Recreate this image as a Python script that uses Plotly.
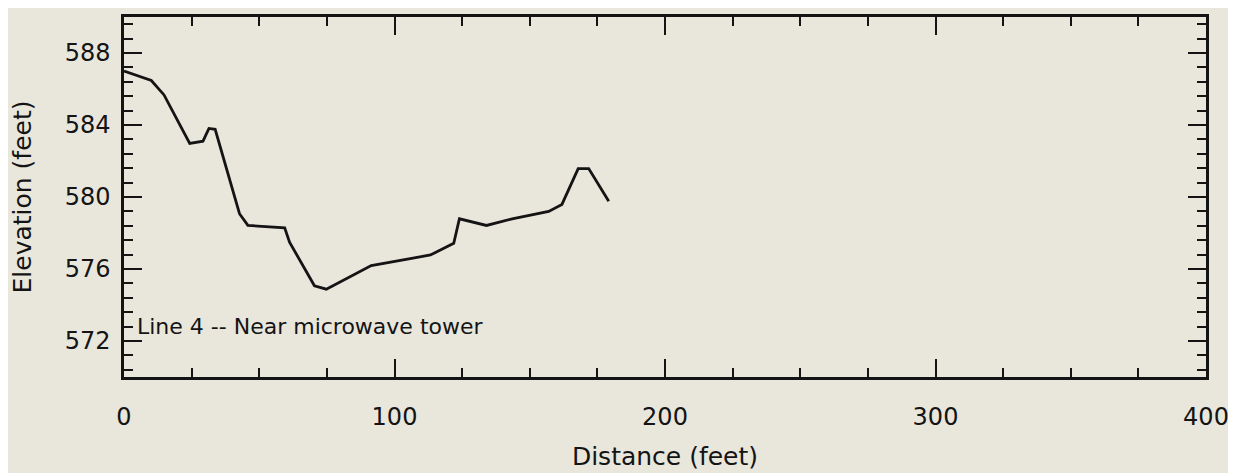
import plotly.graph_objects as go

# Survey profile: Line 4 -- Near microwave tower
distance_ft = [0, 10.1, 14.8, 24.3, 29.2, 31.4, 33.7, 42.7, 45.8, 59.4, 61.2,
               70.4, 74.8, 91.4, 105.3, 113.3, 121.9, 124.0, 134.0, 143.5,
               157.0, 161.9, 167.9, 171.8, 179.2]
elevation_ft = [587.0, 586.47, 585.67, 582.98, 583.1, 583.81, 583.76, 579.07,
                578.42, 578.29, 577.49, 575.07, 574.88, 576.19, 576.56, 576.78,
                577.43, 578.79, 578.42, 578.79, 579.2, 579.59, 581.58, 581.58,
                579.76]

x_ticks = [0, 100, 200, 300, 400]
y_ticks = [572, 576, 580, 584, 588]
label_text = "Line 4 -- Near microwave tower"

bg = "#e9e6dc"
ink = "#141414"
font_family = "DejaVu Sans"

fig = go.Figure()
fig.add_trace(go.Scatter(x=distance_ft, y=elevation_ft, mode="lines",
                         line=dict(color=ink, width=2.8), hoverinfo="skip"))

fig.add_annotation(x=4, y=572.8, xref="x", yref="y", text=label_text,
                   showarrow=False, xanchor="left", yanchor="middle",
                   font=dict(family=font_family, size=22, color=ink))

axis_common = dict(showline=True, linecolor=ink, linewidth=2.5, mirror="ticks",
                   ticks="inside", tickcolor=ink, tickwidth=2, ticklen=18,
                   showgrid=False, zeroline=False, automargin=False)

fig.update_xaxes(range=[0, 400], tickvals=x_ticks,
                 tickfont=dict(family=font_family, size=24, color=ink),
                 ticklabelstandoff=16,
                 minor=dict(dtick=25, tick0=0, ticks="inside", ticklen=9,
                            tickwidth=2, tickcolor=ink, showgrid=False),
                 title=dict(text="Distance (feet)", standoff=18,
                            font=dict(family=font_family, size=25, color=ink)),
                 **axis_common)
fig.update_yaxes(range=[570, 590], tickvals=y_ticks,
                 tickfont=dict(family=font_family, size=24, color=ink),
                 ticklabelstandoff=6,
                 minor=dict(dtick=0.8, tick0=572, ticks="inside", ticklen=9,
                            tickwidth=2, tickcolor=ink, showgrid=False),
                 title=dict(text="Elevation (feet)", standoff=28,
                            font=dict(family=font_family, size=25, color=ink)),
                 **axis_common)

fig.update_layout(width=1236, height=473,
                  margin=dict(l=116, r=38, t=9, b=104),
                  paper_bgcolor=bg, plot_bgcolor=bg, showlegend=False,
                  font=dict(family=font_family, color=ink))

fig.write_html("out.html")
